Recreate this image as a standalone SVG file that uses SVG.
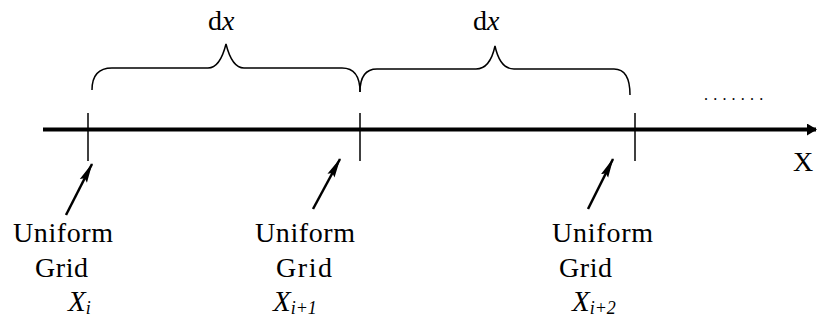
<svg xmlns="http://www.w3.org/2000/svg" width="817" height="322" viewBox="0 0 817 322">
<defs>
<style>
.t{font-family:"Liberation Serif","Times New Roman",serif;fill:#000;}
.lbl{font-size:28px;}
.var{font-size:29px;font-style:italic;}
.sub{font-size:18px;font-style:italic;}
.ln{stroke:#000;fill:none;}
</style>
<marker id="ah" viewBox="0 0 20 10" refX="19" refY="5" markerWidth="20" markerHeight="10" markerUnits="userSpaceOnUse" orient="auto">
<path d="M0,1 L20,5 L0,9 L3,5 Z" fill="#000"/>
</marker>
<marker id="axh" viewBox="0 0 10 12" refX="9" refY="6" markerWidth="10" markerHeight="12" markerUnits="userSpaceOnUse" orient="auto">
<path d="M0,0 L10,6 L0,12 Z" fill="#000"/>
</marker>
</defs>
<rect width="817" height="322" fill="#fff"/>
<g id="connectors">
<line class="ln" x1="43" y1="129.5" x2="816" y2="129.5" stroke-width="4" marker-end="url(#axh)"/>
<line class="ln" x1="88" y1="113" x2="88" y2="161" stroke-width="1.5"/>
<line class="ln" x1="360" y1="113" x2="360" y2="161" stroke-width="1.5"/>
<line class="ln" x1="635" y1="113" x2="635" y2="161" stroke-width="1.5"/>
<path class="ln" stroke-width="1.5" d="M92,90 Q92,68 112,68 L208,68 Q220,68 226,44 Q232,68 244,68 L342,68 Q360,68 360,92"/>
<path class="ln" stroke-width="1.5" d="M360,92 Q360,69 377,69 L476,69 Q490,69 495,46 Q500,69 514,69 L614,69 Q630,69 630,95"/>
<line class="ln" x1="66" y1="215" x2="92" y2="164" stroke-width="2.5" marker-end="url(#ah)"/>
<line class="ln" x1="313" y1="209" x2="340" y2="159" stroke-width="2.5" marker-end="url(#ah)"/>
<line class="ln" x1="588" y1="209" x2="613" y2="159" stroke-width="2.5" marker-end="url(#ah)"/>
</g>
<g id="dx1"><text class="t" x="208" y="30" font-size="28">d<tspan font-style="italic">x</tspan></text></g>
<g id="dx2"><text class="t" x="473" y="30" font-size="28">d<tspan font-style="italic">x</tspan></text></g>
<g id="dots"><text class="t" x="704" y="100" font-size="16" letter-spacing="5.2">.......</text></g>
<g id="xlabel"><text class="t" x="793" y="171" font-size="28">X</text></g>
<g id="node1">
<text class="t lbl" x="13" y="242" textLength="100" lengthAdjust="spacing">Uniform</text>
<text class="t lbl" x="35" y="277" textLength="53" lengthAdjust="spacing">Grid</text>
<text class="t var" x="68" y="311">X<tspan class="sub" dy="3">i</tspan></text>
</g>
<g id="node2">
<text class="t lbl" x="255" y="242" textLength="100" lengthAdjust="spacing">Uniform</text>
<text class="t lbl" x="276" y="277" textLength="56" lengthAdjust="spacing">Grid</text>
<text class="t var" x="273" y="311">X<tspan class="sub" dy="3">i+1</tspan></text>
</g>
<g id="node3">
<text class="t lbl" x="552" y="242" textLength="101" lengthAdjust="spacing">Uniform</text>
<text class="t lbl" x="559" y="277" textLength="53" lengthAdjust="spacing">Grid</text>
<text class="t var" x="572" y="311">X<tspan class="sub" dy="3">i+2</tspan></text>
</g>
</svg>
